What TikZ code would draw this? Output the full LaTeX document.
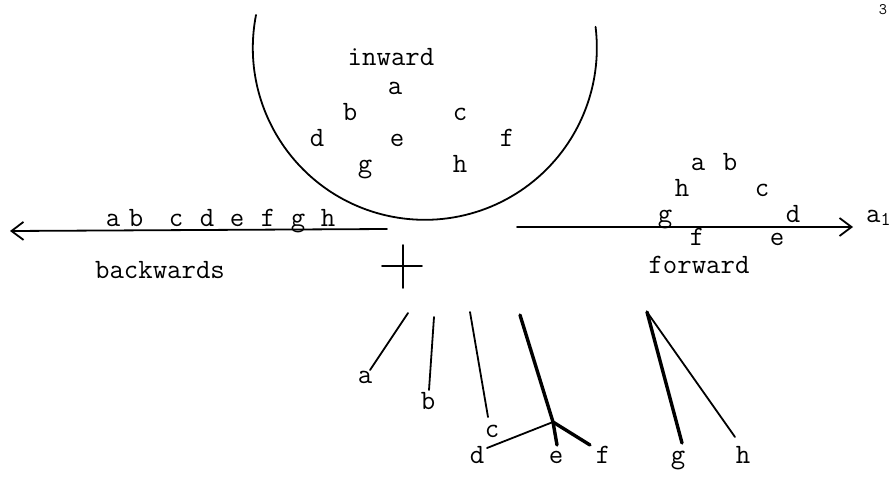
\documentclass[tikz,border=0pt]{standalone}
\usetikzlibrary{arrows.meta}
\begin{document}
\begin{tikzpicture}[x=1pt,y=-1pt,
  lab/.style={font=\ttfamily\fontsize{28}{28}\selectfont, inner sep=0pt, anchor=base},
  stroke/.style={line width=1.8pt, line cap=round},
  heavy/.style={line width=3.4pt, line cap=round},
  tip/.style={-{Straight Barb[length=12pt,width=18pt,line width=1.8pt]}}]
\useasboundingbox (0,0) rectangle (894,477);
% page number
\node[font=\ttfamily\fontsize{16}{16}\selectfont, inner sep=0pt, anchor=base] (pg) at (883,14) {3};
% the half circle
\draw[stroke] (256,15) arc[start angle=169, end angle=367, radius=172pt];
% inward letters
\node[lab] (inw) at (391,65) {inward};
\node[lab] (ia) at (395,94) {a};
\node[lab] (ib) at (350,120) {b};
\node[lab] (ic) at (460,120) {c};
\node[lab] (id) at (317,146) {d};
\node[lab] (ie) at (397,146) {e};
\node[lab] (if) at (507,146) {f};
\node[lab] (ig) at (365,172) {g};
\node[lab] (ih) at (460,172) {h};
% backwards arrow
\coordinate (bs) at (387,229);
\coordinate (be) at (10,231);
\draw[stroke,tip] (bs) -- (be);
\node[lab] (ba) at (113,226) {a};
\node[lab] (bb) at (136,226) {b};
\node[lab] (bc) at (176,226) {c};
\node[lab] (bd) at (207,226) {d};
\node[lab] (bee) at (237,226) {e};
\node[lab] (bf) at (268,226) {f};
\node[lab] (bg) at (298,226) {g};
\node[lab] (bh) at (328,226) {h};
\node[lab] (back) at (160,278) {backwards};
% cross
\coordinate (cl) at (382,266);
\coordinate (cr) at (422,266);
\coordinate (ct) at (403,245);
\coordinate (cb) at (403,288);
\draw[stroke] (cl) -- (cr);
\draw[stroke] (ct) -- (cb);
% forward arrow
\coordinate (fs) at (517,227);
\coordinate (fe) at (853,227);
\draw[stroke,tip] (fs) -- (fe);
\node[lab] (fa) at (698,170) {a};
\node[lab] (fb) at (730,170) {b};
\node[lab] (fh) at (682,196) {h};
\node[lab] (fc) at (762,196) {c};
\node[lab] (fg) at (665,222) {g};
\node[lab] (fd) at (793,222) {d};
\node[lab] (ff) at (697,245) {f};
\node[lab] (fee) at (777,245) {e};
\node[lab] (fwd) at (699,273) {forward};
\node[lab, anchor=base west] (a1) at (866,222) {a\textsubscript{1}};
% lower strokes
\coordinate (la1) at (408,313); \coordinate (la2) at (370,370);
\coordinate (lb1) at (434,317); \coordinate (lb2) at (429,390);
\coordinate (lc1) at (470,312); \coordinate (lc2) at (488,417);
\coordinate (le1) at (520,315); \coordinate (lj) at (553,422); \coordinate (le2) at (557,445);
\coordinate (ld2) at (487,448);
\coordinate (lf2) at (590,445);
\coordinate (lap) at (647,312); \coordinate (lg2) at (682,443); \coordinate (lh2) at (735,437);
\draw[stroke] (la1) -- (la2);
\draw[stroke] (lb1) -- (lb2);
\draw[stroke] (lc1) -- (lc2);
\draw[heavy] (le1) -- (lj) -- (le2);
\draw[stroke] (lj) -- (ld2);
\draw[heavy] (lj) -- (lf2);
\draw[heavy] (lap) -- (lg2);
\draw[stroke] (lap) -- (lh2);
\node[lab] (la) at (365,383) {a};
\node[lab] (lb) at (428,409) {b};
\node[lab] (lc) at (492,437) {c};
\node[lab] (ld) at (477,463) {d};
\node[lab] (lee) at (556,463) {e};
\node[lab] (lf) at (603,463) {f};
\node[lab] (lg) at (678,463) {g};
\node[lab] (lh) at (743,463) {h};
\end{tikzpicture}
\end{document}
